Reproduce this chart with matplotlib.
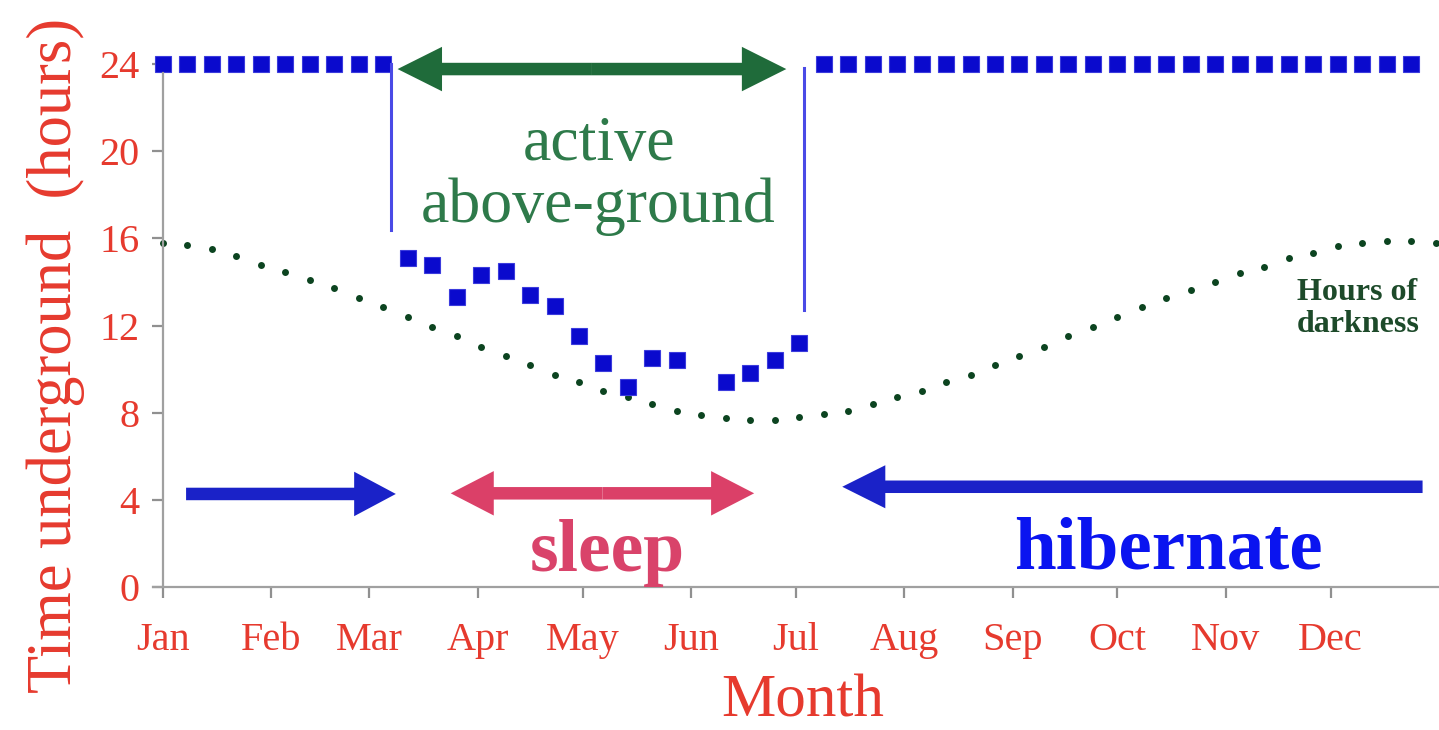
import numpy as np
import matplotlib
matplotlib.use("Agg")
import matplotlib.pyplot as plt

plt.rcParams['font.family'] = ['Liberation Serif', 'DejaVu Serif']

# x axis is day of year, weekly samples
month_names = ['Jan', 'Feb', 'Mar', 'Apr', 'May', 'Jun', 'Jul', 'Aug', 'Sep', 'Oct', 'Nov', 'Dec']
month_start_day = [0, 31, 59, 90, 120, 151, 181, 212, 243, 273, 304, 334]
y_ticks = [0, 4, 8, 12, 16, 20, 24]

# hours underground per week (nan = no record)
underground = [24, 24, 24, 24, 24, 24, 24, 24, 24, 24,
               15.1, 14.8, 13.3, 14.3, 14.5, 13.4, 12.9, 11.5, 10.3, 9.2,
               10.5, 10.4, np.nan, 9.4, 9.8, 10.4, 11.2,
               24, 24, 24, 24, 24, 24, 24, 24, 24, 24, 24, 24, 24, 24, 24,
               24, 24, 24, 24, 24, 24, 24, 24, 24, 24]

# hours of darkness per week
darkness = [15.8, 15.7, 15.5, 15.2, 14.8, 14.45, 14.1, 13.7, 13.25, 12.85,
            12.4, 11.95, 11.5, 11.0, 10.6, 10.2, 9.75, 9.4, 9.0, 8.7,
            8.4, 8.1, 7.9, 7.75, 7.65, 7.65, 7.8, 7.95, 8.1, 8.4,
            8.7, 9.0, 9.4, 9.75, 10.2, 10.6, 11.0, 11.5, 11.95, 12.4,
            12.85, 13.25, 13.65, 14.0, 14.4, 14.7, 15.1, 15.35, 15.65, 15.8,
            15.9, 15.9, 15.8]

sq_day = np.arange(len(underground)) * 7
dark_day = np.arange(len(darkness)) * 7

red = '#e63a2e'

fig = plt.figure(figsize=(14.39, 7.3), dpi=100)
ax = fig.add_axes([163/1439, 143/730, 1276/1439, 557/730])
ax.set_xlim(0, 365)
ax.set_ylim(0, 557/21.79)

ax.plot(dark_day, darkness, 'o', color='#0c4420', ms=5, mec='none', clip_on=False)
ax.plot(sq_day, underground, 's', color='#0a0acd', ms=11, mec='#3b3bdd', mew=0.8, clip_on=False)

# step lines at emergence / return
ax.plot([65.1, 65.1], [24, 16.4], color='#4a4ae6', lw=2.2)
ax.plot([183.4, 183.4], [23.8, 12.7], color='#4a4ae6', lw=2.2)

def arrow(x0, x1, y, color, w, hw, hl):
    ax.annotate('', xy=(x1, y), xytext=(x0, y),
                arrowprops=dict(width=w, headwidth=hw, headlength=hl, color=color, lw=0, shrink=0))

# active above-ground (double)
arrow(122.7, 67.1, 23.77, '#1f6b3a', 9, 32, 32)
arrow(122.7, 178.3, 23.77, '#1f6b3a', 9, 32, 32)
# sleep (double)
arrow(125.7, 82.3, 4.3, '#db4068', 9, 32, 31)
arrow(125.7, 169.1, 4.3, '#db4068', 9, 32, 31)
# early hibernation, late hibernation
arrow(6.6, 66.6, 4.27, '#1a22c8', 9, 32, 30)
arrow(360.3, 194.3, 4.6, '#1a22c8', 9, 31, 31)

ax.text(124.6, 19.6, 'active', ha='center', va='baseline', fontsize=46, color='#2e7a4a')
ax.text(124.6, 16.75, 'above-ground', ha='center', va='baseline', fontsize=46, color='#2e7a4a')
ax.text(127.1, 0.73, 'sleep', ha='center', va='baseline', fontsize=53, fontweight='bold', color='#d9436a')
ax.text(287.7, 0.87, 'hibernate', ha='center', va='baseline', fontsize=54, fontweight='bold', color='#0a14f0')
ax.text(324.3, 13.17, 'Hours of', ha='left', va='baseline', fontsize=23, fontweight='bold', color='#1d4a2a')
ax.text(324.3, 11.7, 'darkness', ha='left', va='baseline', fontsize=23, fontweight='bold', color='#1d4a2a')

for s in ['top', 'right']:
    ax.spines[s].set_visible(False)
for s in ['left', 'bottom']:
    ax.spines[s].set_color('#a0a0a0')
    ax.spines[s].set_linewidth(1.6)
ax.spines['left'].set_bounds(0, 23.6)
ax.spines['bottom'].set_bounds(-3, 365)

ax.set_xticks(month_start_day)
ax.set_xticklabels(month_names)
ax.set_yticks(y_ticks)
ax.tick_params(axis='both', colors='#909090', labelcolor=red, labelsize=29, length=8, width=1.6)
ax.tick_params(axis='x', pad=17)
ax.tick_params(axis='y', pad=9)

fig.text(803/1439, 0.5/730, 'Month', ha='center', va='bottom', fontsize=44, color=red)
fig.text(56/1439, 375/730, 'Time underground  (hours)', rotation=90, ha='center', va='center',
         fontsize=45, color=red)

fig.savefig('out.png', dpi=100)
